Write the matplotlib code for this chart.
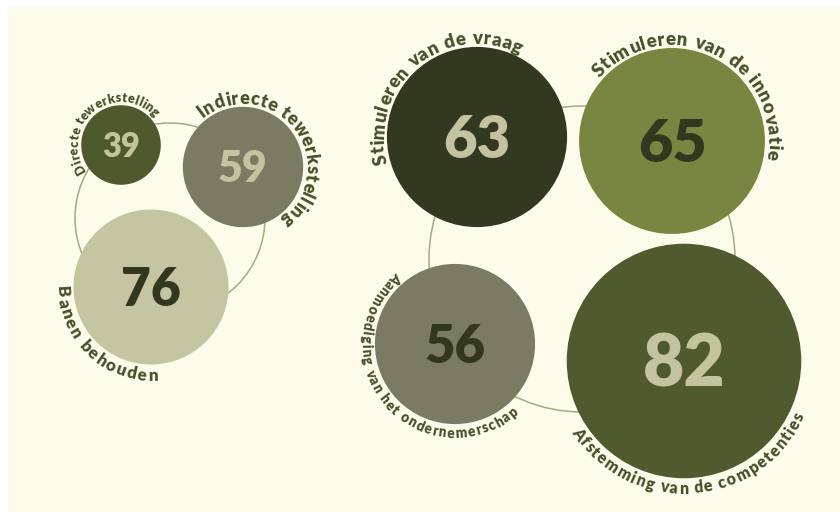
import numpy as np
import matplotlib
matplotlib.use("Agg")
import matplotlib.pyplot as plt
from matplotlib.patches import Circle, Rectangle
from matplotlib.textpath import TextToPath
from matplotlib.font_manager import FontProperties

# ---------------- data ----------------
left_labels = ["Directe tewerkstelling", "Indirecte tewerkstelling", "Banen behouden"]
left_values = [39, 59, 76]
right_labels = ["Stimuleren van de vraag", "Stimuleren van de innovatie",
                "Aanmoediging van het ondernemerschap", "Afstemming van de competenties"]
right_values = [63, 65, 56, 82]

# ---------------- layout / style (pixel coords, y down) ----------------
W, H, DPI = 840, 512, 100
BG = "#FDFBEA"
RING = "#A8A786"
LABEL_COLOR = "#46502B"
LIGHT = "#C4C3A0"
DARK = "#323720"

groups = [
    dict(labels=left_labels, values=left_values, scale=1.02,
         ring=(170, 218, 95),
         centers=[(121, 145), (243, 167), (151, 287)],
         fills=["#4E5A2D", "#7B7A62", "#C6C5A1"],
         numcols=[LIGHT, LIGHT, DARK],
         arcs=[("out", 210, 44), ("out", 127, -50), ("in", 183, 271)]),
    dict(labels=right_labels, values=right_values, scale=1.43,
         ring=(582, 259, 153),
         centers=[(477, 137), (672, 141), (455, 344), (684, 361)],
         fills=["#333821", "#798641", "#7B7A62", "#4F5A2F"],
         numcols=[LIGHT, DARK, DARK, LIGHT],
         arcs=[("out", 193, 66), ("out", 136, -8), ("in", 132, 310.5), ("in", 214.5, 334)]),
]

LABEL_FONT = "Lato"
LABEL_WEIGHT = "heavy"
TRACK = 0.07  # extra letter spacing, in em
NUM_FONT = "Lato"

fig = plt.figure(figsize=(W / DPI, H / DPI), dpi=DPI, facecolor="white")
ax = fig.add_axes([0, 0, 1, 1])
ax.set_xlim(0, W)
ax.set_ylim(0, H)
ax.axis("off")
ax.add_patch(Rectangle((8, 0), W - 8, H - 7, facecolor=BG, edgecolor="none", zorder=0))

ttp = TextToPath()


def width_px(s, fp):
    w, h, d = ttp.get_text_width_height_descent(s, fp, ismath=False)
    return w * DPI / 72.0


def char_centers(s, fp):
    ref = width_px("H", fp)
    em = fp.get_size_in_points() * DPI / 72.0
    lefts = [0.0]
    for i in range(1, len(s) + 1):
        lefts.append(width_px(s[:i] + "H", fp) - ref)
    centers = [(lefts[i] + lefts[i + 1]) / 2 + i * TRACK * em for i in range(len(s))]
    return np.array(centers)


def curved_text(s, cx, cy, r, side, a0, a1):
    # cx, cy in y-up data coords
    fp10 = FontProperties(family=LABEL_FONT, weight=LABEL_WEIGHT, size=10)
    c10 = char_centers(s, fp10)
    natural = c10[-1] - c10[0]
    fs = 10.0
    for _ in range(5):
        em = fs * DPI / 72.0
        cap = 0.72 * em
        if side == "out":
            R = r + 3.0
            Rm = R + cap * 0.5
        else:
            R = r + 4.0 + cap
            Rm = R - cap * 0.5
        span = abs(np.radians(a1 - a0)) * Rm
        fs = 10.0 * span / natural
    fp = FontProperties(family=LABEL_FONT, weight=LABEL_WEIGHT, size=fs)
    cc = char_centers(s, fp)
    cc = cc - cc[0]
    for ch, c in zip(s, cc):
        if ch == " ":
            continue
        if side == "out":
            phi = np.radians(a0) - c / Rm
            rot = np.degrees(phi) - 90
        else:
            phi = np.radians(a0) + c / Rm
            rot = np.degrees(phi) + 90
        x = cx + R * np.cos(phi)
        y = cy + R * np.sin(phi)
        ax.text(x, y, ch, fontproperties=fp, color=LABEL_COLOR, rotation=rot,
                rotation_mode="anchor", ha="center", va="baseline", zorder=5)


for g in groups:
    rx, ry, rr = g["ring"]
    ax.add_patch(Circle((rx, H - ry), rr, facecolor="none", edgecolor=RING, lw=1.1, zorder=1))
    for lab, val, (px, py), fc, nc, (side, a0, a1) in zip(
            g["labels"], g["values"], g["centers"], g["fills"], g["numcols"], g["arcs"]):
        r = g["scale"] * val
        cx, cy = px, H - py
        ax.add_patch(Circle((cx, cy), r, facecolor=fc, edgecolor="none", zorder=2))
        fs = 9.2 + 0.36 * r
        em = fs * DPI / 72.0
        ax.text(cx, cy - 0.36 * em, str(val), fontsize=fs, fontfamily=NUM_FONT,
                fontweight="heavy", color=nc, ha="center", va="baseline", zorder=4)
        curved_text(lab, cx, cy, r, side, a0, a1)

fig.savefig("out.png", dpi=DPI, facecolor="white")
